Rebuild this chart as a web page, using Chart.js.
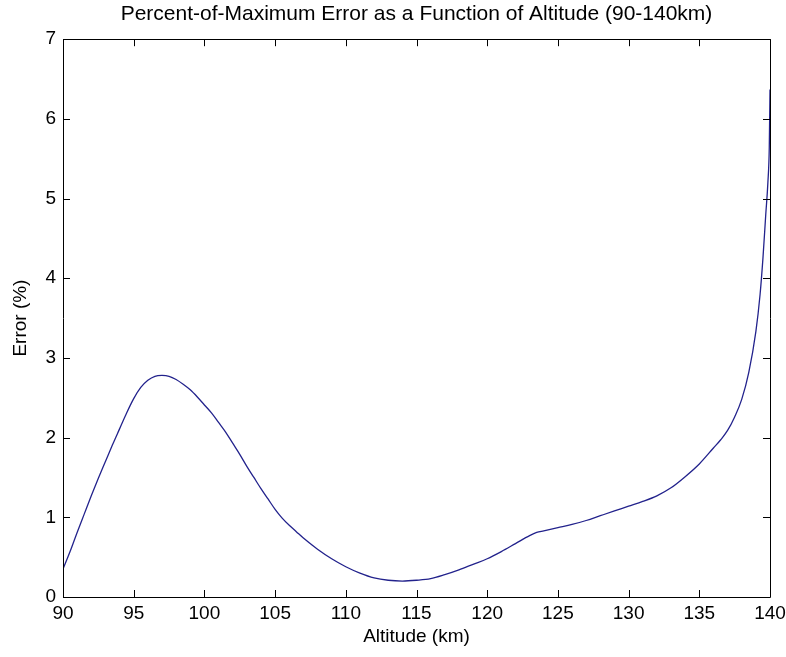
<!DOCTYPE html>
<html>
<head>
<meta charset="utf-8">
<title>Percent-of-Maximum Error</title>
<script src="https://cdn.jsdelivr.net/npm/chart.js@4/dist/chart.umd.min.js"></script>
<style>
  html, body { margin: 0; padding: 0; background: #ffffff; }
  #wrap { width: 786px; height: 657px; }
</style>
</head>
<body>
<div id="wrap"><canvas id="chart" width="786" height="657"></canvas></div>
<script>
// Altitude samples (km) and the percent-of-maximum error at each one
const altitudeKm = [
  90.0, 90.5, 91.0, 91.5, 92.0, 92.5, 93.0, 93.5, 94.0, 94.5,
  95.0, 95.5, 96.0, 96.5, 97.0, 97.5, 98.0, 98.5, 99.0, 99.5,
  100.0, 100.5, 101.0, 101.5, 102.0, 102.5, 103.0, 103.5, 104.0, 104.5,
  105.0, 105.5, 106.0, 106.5, 107.0, 108.0, 109.0, 110.0, 111.0, 112.0,
  113.0, 114.0, 115.0, 116.0, 117.0, 118.0, 119.0, 120.0, 121.0, 122.0,
  123.0, 123.5, 124.0, 125.0, 126.0, 127.0, 128.0, 129.0, 130.0, 131.0,
  132.0, 133.0, 134.0, 135.0, 136.0, 136.5, 137.0, 137.5, 138.0, 138.5,
  139.0, 139.3, 139.5, 139.7, 139.85, 139.95, 140.0
];
const errorPct = [
  0.35, 0.57, 0.81, 1.04, 1.27, 1.49, 1.70, 1.91, 2.11, 2.31,
  2.49, 2.63, 2.72, 2.77, 2.78, 2.77, 2.73, 2.67, 2.60, 2.51,
  2.41, 2.31, 2.19, 2.07, 1.93, 1.79, 1.64, 1.50, 1.36, 1.23,
  1.10, 0.99, 0.90, 0.82, 0.74, 0.60, 0.48, 0.38, 0.30, 0.24,
  0.21, 0.20, 0.21, 0.23, 0.28, 0.34, 0.41, 0.48, 0.57, 0.67,
  0.77, 0.81, 0.83, 0.87, 0.91, 0.96, 1.02, 1.08, 1.14, 1.20,
  1.27, 1.37, 1.51, 1.67, 1.87, 1.97, 2.09, 2.26, 2.48, 2.82,
  3.33, 3.80, 4.25, 4.80, 5.20, 5.65, 6.37
];

// Axis tick values
const xTicks = [90, 95, 100, 105, 110, 115, 120, 125, 130, 135, 140];
const yTicks = [0, 1, 2, 3, 4, 5, 6, 7];

const titleText = 'Percent-of-Maximum Error as a Function of Altitude (90-140km)';
const xLabel = 'Altitude (km)';
const yLabel = 'Error (%)';

const FONT = '"Liberation Sans", Arial, Helvetica, sans-serif';

const points = altitudeKm.map((a, i) => ({ x: a, y: errorPct[i] }));

// Box around the plot with inward tick marks on all four sides
const boxAndTicks = {
  id: 'boxAndTicks',
  afterDatasetsDraw(chart) {
    const { ctx, chartArea: a, scales } = chart;
    const len = 7;
    ctx.save();
    ctx.strokeStyle = '#000000';
    ctx.lineWidth = 1;
    ctx.beginPath();
    ctx.rect(Math.round(a.left) + 0.5, Math.round(a.top) + 0.5,
             Math.round(a.right - a.left), Math.round(a.bottom - a.top));
    ctx.stroke();
    ctx.beginPath();
    scales.x.ticks.forEach(t => {
      const px = Math.round(scales.x.getPixelForValue(t.value)) + 0.5;
      ctx.moveTo(px, a.bottom); ctx.lineTo(px, a.bottom - len);
      ctx.moveTo(px, a.top); ctx.lineTo(px, a.top + len);
    });
    scales.y.ticks.forEach(t => {
      const py = Math.round(scales.y.getPixelForValue(t.value)) + 0.5;
      ctx.moveTo(a.left, py); ctx.lineTo(a.left + len, py);
      ctx.moveTo(a.right, py); ctx.lineTo(a.right - len, py);
    });
    ctx.stroke();
    ctx.restore();
  }
};

new Chart(document.getElementById('chart'), {
  type: 'scatter',
  data: {
    datasets: [{
      data: points,
      showLine: true,
      borderColor: '#22228c',
      borderWidth: 1.3,
      pointRadius: 0,
      cubicInterpolationMode: 'monotone',
      fill: false
    }]
  },
  options: {
    responsive: false,
    animation: false,
    devicePixelRatio: 1,
    layout: { padding: { left: 0, right: 16, top: 0, bottom: 0 } },
    plugins: {
      legend: { display: false },
      tooltip: { enabled: false },
      title: {
        display: true,
        text: titleText,
        fullSize: false,
        color: '#000000',
        font: { family: FONT, size: 21, weight: 'normal' },
        padding: { top: 2, bottom: 12 }
      }
    },
    scales: {
      x: {
        type: 'linear',
        min: 90,
        max: 140,
        afterBuildTicks: s => { s.ticks = xTicks.map(v => ({ value: v })); },
        afterFit: s => { s.height = 60; s.paddingLeft = 0; s.paddingRight = 0; },
        grid: { display: false, drawTicks: false },
        border: { display: false },
        ticks: {
          color: '#000000',
          padding: 5,
          maxRotation: 0,
          autoSkip: false,
          font: { family: FONT, size: 19 }
        },
        title: {
          display: true,
          text: xLabel,
          color: '#000000',
          font: { family: FONT, size: 19 },
          padding: { top: 0, bottom: 9 }
        }
      },
      y: {
        type: 'linear',
        min: 0,
        max: 7,
        afterBuildTicks: s => { s.ticks = yTicks.map(v => ({ value: v })); },
        afterFit: s => { s.width = 63; s.paddingTop = 0; s.paddingBottom = 0; },
        grid: { display: false, drawTicks: false },
        border: { display: false },
        ticks: {
          color: '#000000',
          padding: 7,
          autoSkip: false,
          font: { family: FONT, size: 19 }
        },
        title: {
          display: true,
          text: yLabel,
          color: '#000000',
          font: { family: FONT, size: 19 },
          padding: { top: 9, bottom: 0 }
        }
      }
    }
  },
  plugins: [boxAndTicks]
});
</script>
</body>
</html>
